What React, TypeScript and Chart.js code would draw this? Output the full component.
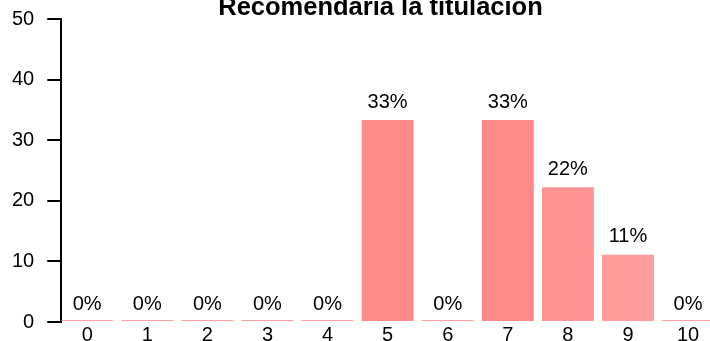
import React, { useEffect, useRef } from "react";
import { Chart, registerables } from "chart.js";

Chart.register(...registerables);

const chartTitle = "Recomendaría la titulación";
const categories = [0, 1, 2, 3, 4, 5, 6, 7, 8, 9, 10];
const percentages = [0, 0, 0, 0, 0, 33.33, 0, 33.33, 22.22, 11.11, 0];
const yTicks = [0, 10, 20, 30, 40, 50];
const barColors = [
  "#FF9E9E", "#FF9E9E", "#FF9E9E", "#FF9E9E", "#FF9E9E", "#FF8A8A",
  "#FF9E9E", "#FF8A8A", "#FF9393", "#FF9D9D", "#FF9E9E",
];

const FONT = '"Liberation Sans", Arial, Helvetica, sans-serif';
const CW = 760;
const CH = 368;

const labelPlugin = {
  id: "pctLabels",
  afterDatasetsDraw(chart: any) {
    const ctx = chart.ctx;
    const meta = chart.getDatasetMeta(0);
    const yScale = chart.scales.y;
    ctx.save();
    ctx.font = `20px ${FONT}`;
    ctx.fillStyle = "#000";
    ctx.textAlign = "center";
    ctx.textBaseline = "alphabetic";
    meta.data.forEach((bar: any, i: number) => {
      const v = percentages[i];
      ctx.fillText(`${Math.round(v)}%`, bar.x, yScale.getPixelForValue(v) - 12.5);
    });
    ctx.restore();
  },
};

const titlePlugin = {
  id: "cutTitle",
  afterDraw(chart: any) {
    const ctx = chart.ctx;
    ctx.save();
    ctx.font = `bold 25.5px ${FONT}`;
    ctx.fillStyle = "#000";
    ctx.textAlign = "center";
    ctx.textBaseline = "alphabetic";
    ctx.fillText(chartTitle, 392.5, 35);
    ctx.restore();
  },
};

export default function App() {
  const ref = useRef<HTMLCanvasElement | null>(null);

  useEffect(() => {
    document.body.style.overflow = "hidden";
    const canvas = ref.current;
    if (!canvas) return;
    const chart = new Chart(canvas, {
      type: "bar",
      data: {
        datasets: [
          {
            data: categories.map((c, i) => ({ x: c, y: percentages[i] })),
            backgroundColor: barColors,
            borderWidth: 0,
            minBarLength: 2,
            barPercentage: 0.864,
            categoryPercentage: 1,
          },
        ],
      },
      options: {
        animation: false,
        responsive: false,
        devicePixelRatio: 1,
        layout: { padding: { top: 39, left: 11, right: 20, bottom: 0 } },
        plugins: {
          legend: { display: false },
          tooltip: { enabled: false },
          title: { display: false },
        },
        scales: {
          x: {
            type: "linear",
            offset: false,
            min: -0.432,
            max: 10.665,
            afterBuildTicks: (s: any) => {
              s.ticks = categories.map((v) => ({ value: v }));
            },
            grid: { display: false, drawTicks: false, offset: false },
            border: { display: false },
            ticks: {
              padding: 1,
              color: "#000",
              autoSkip: false,
              maxRotation: 0,
              font: { family: FONT, size: 20 },
              callback: (v: any) => String(v),
            },
          },
          y: {
            min: 0,
            max: 50,
            afterBuildTicks: (s: any) => {
              s.ticks = yTicks.map((v) => ({ value: v }));
            },
            grid: {
              drawOnChartArea: false,
              drawTicks: true,
              tickLength: 14,
              color: "#000",
              lineWidth: 2,
            },
            border: { display: true, color: "#000", width: 2 },
            ticks: {
              padding: 13,
              color: "#000",
              font: { family: FONT, size: 20 },
            },
          },
        },
      },
      plugins: [labelPlugin, titlePlugin],
    });
    return () => chart.destroy();
  }, []);

  return (
    <div
      style={{
        position: "fixed",
        left: 0,
        top: 0,
        width: 710,
        height: 341,
        overflow: "hidden",
        background: "#fff",
      }}
    >
      <canvas
        ref={ref}
        width={CW}
        height={CH}
        style={{ position: "absolute", left: -12, top: -20, width: CW, height: CH }}
      />
    </div>
  );
}
